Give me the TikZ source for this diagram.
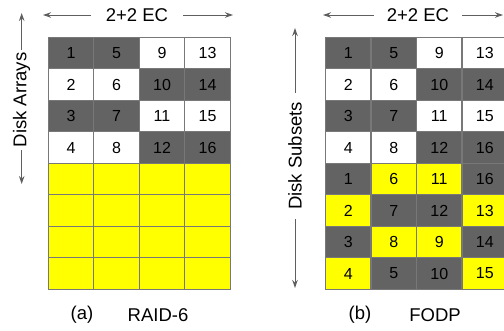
\documentclass[tikz,border=0pt]{standalone}
\usepackage{fontspec}
\setmainfont{Liberation Sans}
\usetikzlibrary{arrows.meta}

\definecolor{darkcell}{RGB}{99,99,99}
\definecolor{yellowcell}{RGB}{255,255,0}
\definecolor{gridline}{RGB}{120,120,120}
\definecolor{arrowgray}{RGB}{95,95,95}

\newcommand{\cellfont}{\fontsize{16}{18}\selectfont}
\newcommand{\labelfont}{\fontsize{18.5}{20}\selectfont}

\begin{document}
\begin{tikzpicture}[
    x=1pt, y=-1pt,
    cell/.style={draw=gridline, line width=1.2pt, minimum width=45.5pt, minimum height=31.5pt, inner sep=0pt, font=\cellfont},
    dk/.style={cell, fill=darkcell},
    wt/.style={cell, fill=white},
    yl/.style={cell, fill=yellowcell},
    arrow/.style={->, >={Stealth[length=8pt, width=5.5pt]}, line width=1pt, draw=arrowgray},
    dimlabel/.style={font=\labelfont, inner sep=2pt},
    caption/.style={font=\labelfont}
]
    \useasboundingbox (0,0) rectangle (504,330);

    % Data blocks (same in both layouts)
    \foreach \n/\s [count=\i from 0] in {1/dk,2/wt,3/dk,4/wt,5/dk,6/wt,7/dk,8/wt,
                                         9/wt,10/dk,11/wt,12/dk,13/wt,14/dk,15/wt,16/dk} {
        \pgfmathtruncatemacro{\c}{int(\i/4)+1}
        \pgfmathtruncatemacro{\r}{mod(\i,4)+1}
        \node[\s] (A-\r-\c) at ({48.3+45.5*(\c-0.5)}, {37.3+31.5*(\r-0.5)}) {\n};
        \node[\s] (B-\r-\c) at ({325.5+45.5*(\c-0.5)}, {37.3+31.5*(\r-0.5)}) {\n};
    }

    % RAID-6: spare rows
    \foreach \r in {5,...,8}
        \foreach \c in {1,...,4}
            \node[yl] (A-\r-\c) at ({48.3+45.5*(\c-0.5)}, {37.3+31.5*(\r-0.5)}) {};

    % FODP: parity spread over the disk subsets
    \foreach \n/\s [count=\i from 0] in {1/dk,2/yl,3/dk,4/yl,6/yl,7/dk,8/yl,5/dk,
                                         11/yl,12/dk,9/yl,10/dk,16/dk,13/yl,14/dk,15/yl} {
        \pgfmathtruncatemacro{\c}{int(\i/4)+1}
        \pgfmathtruncatemacro{\r}{mod(\i,4)+5}
        \node[\s] (B-\r-\c) at ({325.5+45.5*(\c-0.5)}, {37.3+31.5*(\r-0.5)}) {\n};
    }

    % Dimension labels
    \node[dimlabel, inner xsep=15pt] (ecA) at (137,15) {2+2 EC};
    \coordinate (ecAl) at (43,15);
    \coordinate (ecAr) at (233,15);
    \draw[arrow] (ecA) -- (ecAl);
    \draw[arrow] (ecA) -- (ecAr);

    \node[dimlabel, inner xsep=13pt] (ecB) at (418,15) {2+2 EC};
    \coordinate (ecBl) at (323,15);
    \coordinate (ecBr) at (503,15);
    \draw[arrow] (ecB) -- (ecBl);
    \draw[arrow] (ecB) -- (ecBr);

    \node[dimlabel, rotate=90, inner xsep=3pt] (arr) at (21.7,100) {Disk Arrays};
    \coordinate (arrT) at (21.7,13);
    \coordinate (arrB) at (21.7,184);
    \draw[arrow] (arr) -- (arrT);
    \draw[arrow] (arr) -- (arrB);

    \node[dimlabel, rotate=90, inner xsep=9pt] (sub) at (295,156) {Disk Subsets};
    \coordinate (subT) at (295,28);
    \coordinate (subB) at (295,288);
    \draw[arrow] (sub) -- (subT);
    \draw[arrow] (sub) -- (subB);

    % Captions
    \node[caption] (capa) at (82,315) {(a)};
    \node[caption] (namea) at (158,315) {RAID-6};
    \node[caption] (capb) at (360,315) {(b)};
    \node[caption] (nameb) at (435,315) {FODP};
\end{tikzpicture}
\end{document}
